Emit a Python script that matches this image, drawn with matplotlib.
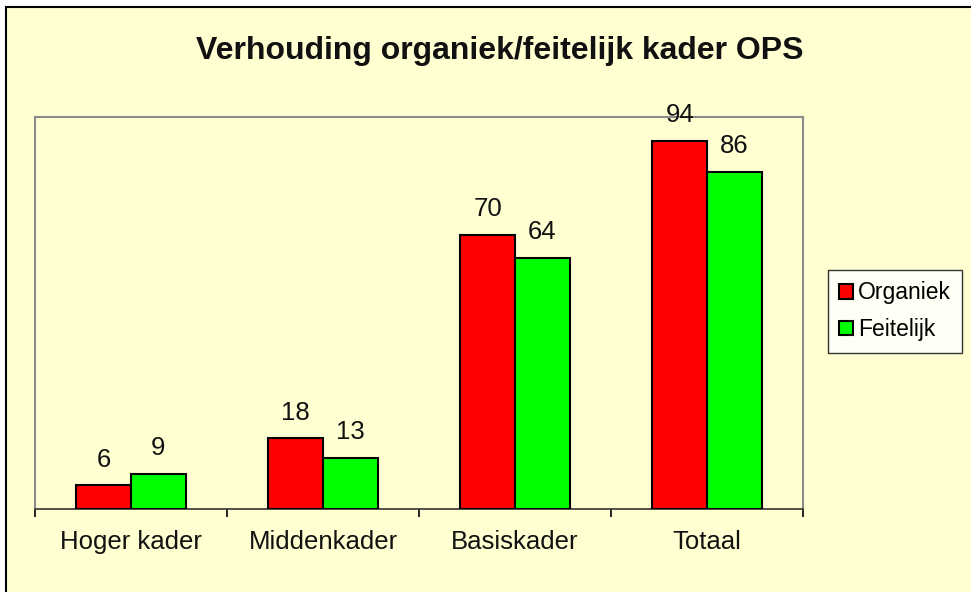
import matplotlib
matplotlib.use("Agg")
import matplotlib.pyplot as plt
import numpy as np
from matplotlib.patches import Rectangle

categories = ["Hoger kader", "Middenkader", "Basiskader", "Totaal"]
organiek = [6, 18, 70, 94]
feitelijk = [9, 13, 64, 86]
series_names = ["Organiek", "Feitelijk"]
title = "Verhouding organiek/feitelijk kader OPS"

BG = "#FFFFD2"
plt.rcParams['font.family'] = ['Liberation Sans', 'DejaVu Sans']

fig = plt.figure(figsize=(9.71, 5.92), dpi=100)
fig.patch.set_facecolor("white")
# outer chart frame
fig.patches.append(Rectangle((6/971, -0.01), 1.02, (592-7)/592 + 0.01, transform=fig.transFigure,
                             facecolor=BG, edgecolor="black", linewidth=1.5, zorder=-10))

ax = fig.add_axes([35/971, (592-509)/592, (803-35)/971, (509-117)/592])
ax.set_facecolor(BG)

x = np.arange(len(categories))
w = 0.285
b1 = ax.bar(x - w/2, organiek, w, color="#FF0000", edgecolor="black", linewidth=1.5, label=series_names[0], zorder=3)
b2 = ax.bar(x + w/2, feitelijk, w, color="#00FF00", edgecolor="black", linewidth=1.5, label=series_names[1], zorder=3)
for bars, vals in ((b1, organiek), (b2, feitelijk)):
    for r, v in zip(bars, vals):
        ax.annotate(str(v), (r.get_x() + r.get_width()/2, v), xytext=(0, 10), textcoords="offset points",
                    ha="center", va="bottom", fontsize=18.5, color="#111111", annotation_clip=False)

ax.set_xlim(-0.5, len(categories) - 0.5)
ax.set_ylim(0, 100)
ax.set_yticks([])
ax.set_xticks(x)
ax.set_xticklabels(categories, fontsize=18.5, color="#111111")
ax.tick_params(axis="x", which="major", length=0, pad=15)
ax.set_xticks(np.arange(len(categories) + 1) - 0.5, minor=True)
ax.tick_params(axis="x", which="minor", length=6, width=1.2, color="black", direction="out")
for s in ("left", "top", "right"):
    ax.spines[s].set_color("#8c8c8c")
    ax.spines[s].set_linewidth(1.5)
ax.spines["bottom"].set_color("#333333")
ax.spines["bottom"].set_linewidth(1.2)

fig.text(500/971, 1 - 51/592, title, ha="center", va="center", fontsize=23, fontweight="bold", color="#111111")

leg = fig.legend(handles=[b1, b2], labels=series_names, loc="upper left",
                 bbox_to_anchor=(828/971, 1 - 270/592), fontsize=16.5, frameon=True, fancybox=False,
                 handlelength=0.6, handleheight=0.6, handletextpad=0.2, labelspacing=0.6,
                 borderpad=0.5, borderaxespad=0)
leg.get_frame().set_edgecolor("black")
leg.get_frame().set_facecolor("white")
leg.get_frame().set_linewidth(1.0)

fig.savefig("out.png", dpi=100, facecolor=fig.get_facecolor())
